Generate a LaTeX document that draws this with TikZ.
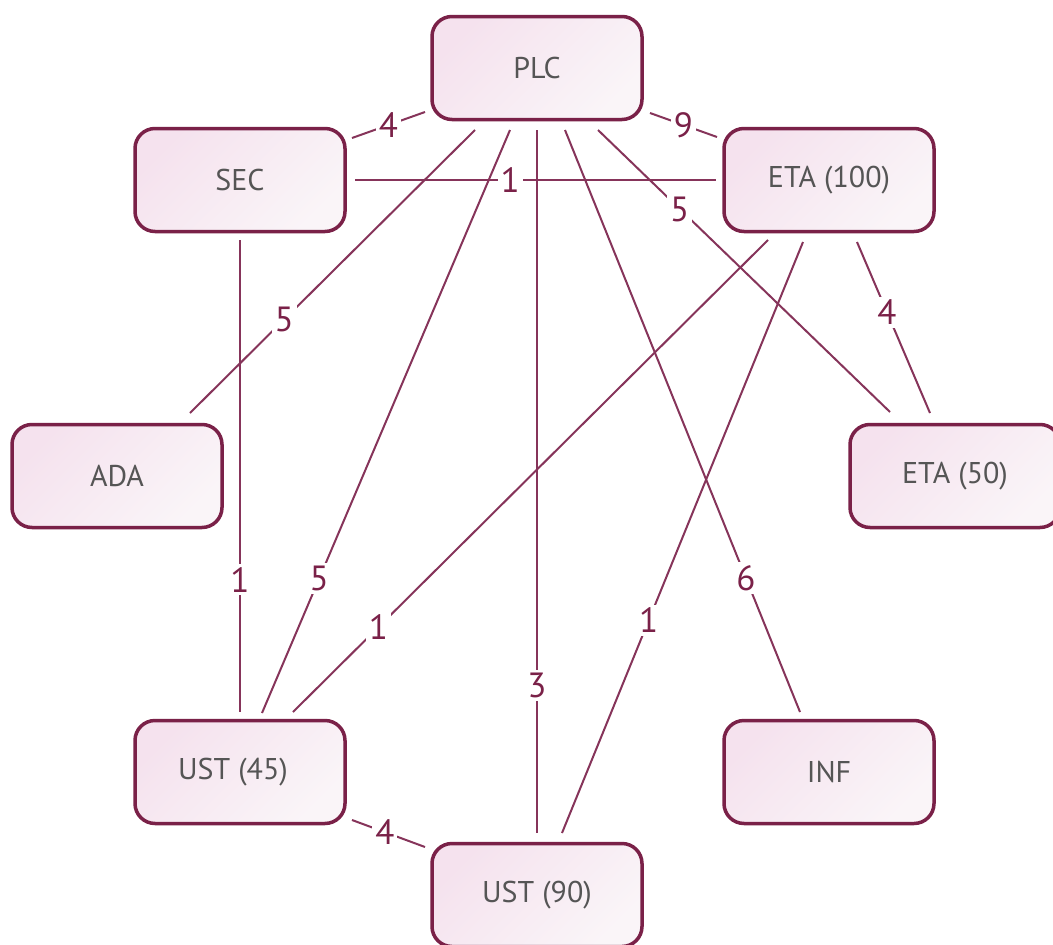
\documentclass[tikz,border=0pt]{standalone}
\usepackage{fontspec}
\setmainfont{PT Sans}
\usetikzlibrary{calc}
\definecolor{maroon}{HTML}{7A2148}
\definecolor{edgec}{HTML}{86345A}
\definecolor{txt}{HTML}{555555}
\definecolor{pinkA}{HTML}{F5E2EE}
\definecolor{pinkB}{HTML}{FAF5F8}
\tikzset{
  box/.style={draw=maroon, line width=3.5pt, rounded corners=20pt,
    minimum width=210pt, minimum height=103pt, text=txt,
    font=\fontsize{30}{34}\selectfont,
    left color=pinkA, right color=pinkB, shading angle=45},
  edge/.style={draw=edgec, line width=2pt},
  wt/.style={fill=white, text=maroon, inner sep=3pt,
    font=\fontsize{35}{40}\selectfont}
}
\begin{document}
\begin{tikzpicture}[x=1pt,y=-1pt]
\useasboundingbox (0,0) rectangle (1053,945);
\node[box] (PLC) at (537,68) {PLC};
\node[box] (SEC) at (240,180) {SEC};
\node[box] (ETAh) at (829,180) {ETA (100)};
\node[box] (ADA) at (117,476) {ADA};
\node[box] (ETAf) at (955,476) {ETA (50)};
\node[box] (USTa) at (240,772) {UST (45)\hspace*{14pt}};
\node[box] (INF) at (829,772) {INF};
\node[box] (USTb) at (537,895) {UST (90)};

\draw[edge] ($(PLC)+(-112,44)$) -- node[wt,pos=0.5]{4} ($(SEC)+(112,-42)$);
\draw[edge] ($(PLC)+(113,45)$) -- node[wt,pos=0.5]{9} ($(ETAh)+(-112,-43)$);
\draw[edge] ($(SEC)+(115,0)$) -- node[wt,pos=0.43]{1} ($(ETAh)+(-113,0)$);
\draw[edge] ($(PLC)+(-62,62)$) -- node[wt,pos=0.67]{5} ($(ADA)+(73,-63)$);
\draw[edge] ($(PLC)+(-27,62)$) -- node[wt,pos=0.77]{5} ($(USTa)+(22,-59)$);
\draw[edge] ($(PLC)+(0,62)$) -- node[wt,pos=0.79]{3} ($(USTb)+(0,-62)$);
\draw[edge] ($(PLC)+(28,62)$) -- node[wt,pos=0.77]{6} ($(INF)+(-29,-60)$);
\draw[edge] ($(PLC)+(61,62)$) -- node[wt,pos=0.28]{5} ($(ETAf)+(-65,-64)$);
\draw[edge] ($(SEC)+(0,60)$) -- node[wt,pos=0.72]{1} ($(USTa)+(0,-60)$);
\draw[edge] ($(ETAh)+(28,62)$) -- node[wt,pos=0.41]{4} ($(ETAf)+(-25,-63)$);
\draw[edge] ($(ETAh)+(-61,60)$) -- node[wt,pos=0.82]{1} ($(USTa)+(53,-60)$);
\draw[edge] ($(ETAh)+(-26,62)$) -- node[wt,pos=0.64]{1} ($(USTb)+(25,-62)$);
\draw[edge] ($(USTa)+(112,48)$) -- node[wt,pos=0.45]{4} ($(USTb)+(-112,-48)$);
\end{tikzpicture}
\end{document}
